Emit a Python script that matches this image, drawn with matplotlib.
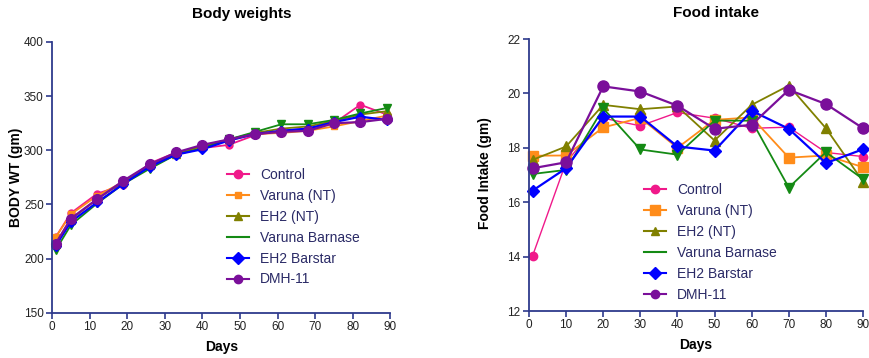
import matplotlib.pyplot as plt
from matplotlib.lines import Line2D

plt.rcParams['font.family'] = ['Liberation Sans', 'DejaVu Sans']

names = ['Control', 'Varuna (NT)', 'EH2 (NT)', 'Varuna Barnase', 'EH2 Barstar', 'DMH-11']
colors = ['#f0198a', '#ff8c1a', '#808000', '#148a14', '#0000ff', '#7a0f9a']
markers = ['o', 's', '^', 'v', 'D', 'o']

# body weights (gm)
bw_days = [1, 5, 12, 19, 26, 33, 40, 47, 54, 61, 68, 75, 82, 89]
bw_control = [220, 242, 260, 268, 288, 298, 302, 305, 314, 318, 320, 325, 342, 333]
bw_varuna_nt = [220, 241, 258, 271, 287, 297, 303, 309, 315, 316, 318, 322, 327, 332]
bw_eh2_nt = [214, 236, 255, 271, 286, 297, 304, 310, 316, 320, 322, 327, 333, 336]
bw_barnase = [208, 231, 251, 269, 283, 296, 302, 310, 317, 324, 324, 328, 334, 339]
bw_barstar = [212, 234, 252, 269, 285, 296, 301, 309, 315, 318, 320, 326, 331, 328]
bw_dmh11 = [214, 237, 255, 272, 287, 298, 305, 310, 315, 317, 318, 325, 326, 329]

# food intake (gm)
fi_days = [1, 10, 20, 30, 40, 50, 60, 70, 80, 90]
fi_control = [14.04, 17.47, 19.09, 18.81, 19.30, 19.09, 18.72, 18.76, 17.83, 17.68]
fi_varuna_nt = [17.71, 17.72, 18.75, 19.10, 18.00, 19.03, 19.12, 17.64, 17.72, 17.29]
fi_eh2_nt = [17.56, 18.05, 19.58, 19.42, 19.52, 18.27, 19.58, 20.29, 18.72, 16.76]
fi_barnase = [17.04, 17.19, 19.45, 17.94, 17.75, 19.00, 19.00, 16.54, 17.84, 16.85]
fi_barstar = [16.43, 17.25, 19.15, 19.15, 18.05, 17.90, 19.36, 18.70, 17.44, 17.95]
fi_dmh11 = [17.25, 17.47, 20.26, 20.07, 19.55, 18.70, 18.85, 20.13, 19.61, 18.72]

bw_series = [bw_control, bw_varuna_nt, bw_eh2_nt, bw_barnase, bw_barstar, bw_dmh11]
fi_series = [fi_control, fi_varuna_nt, fi_eh2_nt, fi_barnase, fi_barstar, fi_dmh11]

spine_col = '#2e3a8c'
text_col = '#222222'
leg_col = '#2a2a66'


def style_axes(ax):
    for s in ['top', 'right']:
        ax.spines[s].set_visible(False)
    for s in ['left', 'bottom']:
        ax.spines[s].set_color(spine_col)
        ax.spines[s].set_linewidth(1.3)
    ax.tick_params(colors=spine_col, labelcolor=text_col, labelsize=8.5,
                   length=4, width=1.2, direction='out', pad=2)


def draw(ax, days, series, big, thin_first):
    lw_list = [1.0 if thin_first else 1.3, 1.3, 1.3, 1.3, 1.6, 1.6]
    ms_list = [5 if not big else 6, 7 if big else 4, 6 if not big else 7,
               6 if not big else 7, 5 if not big else 6, 7 if not big else 8]
    for i in range(len(series)):
        ax.plot(days, series[i], color=colors[i], marker=markers[i],
                lw=lw_list[i], ms=ms_list[i], mec=colors[i], clip_on=False)
    handles = []
    for i in range(len(names)):
        mk = None if i == 3 else markers[i]
        ms = 6 if i != 1 else (7 if big else 4)
        handles.append(Line2D([], [], color=colors[i], marker=mk, ms=ms, lw=1.5,
                              mec=colors[i]))
    return handles


fig = plt.figure(figsize=(8.7, 3.58), dpi=100)

ax1 = fig.add_axes([0.0598, 0.126, 0.389, 0.757])
h = draw(ax1, bw_days, bw_series, False, False)
ax1.set_xlim(0, 90)
ax1.set_ylim(150, 400)
ax1.set_xticks(range(0, 91, 10))
ax1.set_yticks(range(150, 401, 50))
style_axes(ax1)
leg = ax1.legend(h, names, loc='upper left', bbox_to_anchor=(0.5, 0.556),
                 frameon=False, fontsize=10, handlelength=1.6,
                 labelspacing=0.5, borderaxespad=0)
for t in leg.get_texts():
    t.set_color(leg_col)
fig.text(242 / 870, 1 - 14 / 358, 'Body weights', ha='center', va='center',
         fontsize=11, fontweight='bold')
fig.text(222 / 870, 1 - 347 / 358, 'Days', ha='center', va='center',
         fontsize=10, fontweight='bold')
fig.text(16 / 870, 1 - 177 / 358, 'BODY WT (gm)', ha='center', va='center',
         rotation=90, fontsize=10, fontweight='bold')

ax2 = fig.add_axes([0.608, 0.131, 0.384, 0.760])
h = draw(ax2, fi_days, fi_series, True, True)
ax2.set_xlim(0, 90)
ax2.set_ylim(12, 22)
ax2.set_xticks(range(0, 91, 10))
ax2.set_yticks(range(12, 23, 2))
style_axes(ax2)
leg = ax2.legend(h, names, loc='upper left', bbox_to_anchor=(0.327, 0.49),
                 frameon=False, fontsize=10, handlelength=1.6,
                 labelspacing=0.5, borderaxespad=0)
for t in leg.get_texts():
    t.set_color(leg_col)
fig.text(716 / 870, 1 - 13 / 358, 'Food intake', ha='center', va='center',
         fontsize=11, fontweight='bold')
fig.text(696 / 870, 1 - 345 / 358, 'Days', ha='center', va='center',
         fontsize=10, fontweight='bold')
fig.text(485 / 870, 1 - 173 / 358, 'Food Intake (gm)', ha='center', va='center',
         rotation=90, fontsize=10, fontweight='bold')

fig.savefig('out.png', dpi=100)
